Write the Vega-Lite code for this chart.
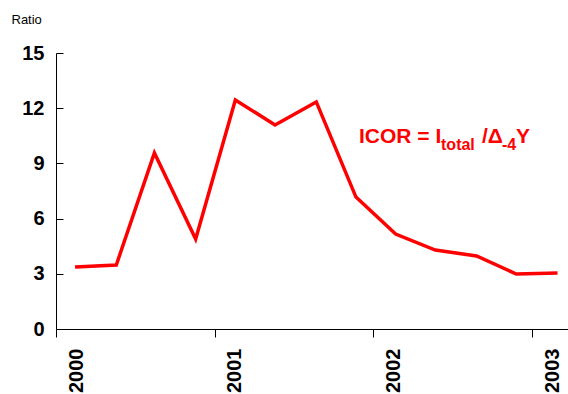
{
  "$schema": "https://vega.github.io/schema/vega-lite/v6.json",
  "autosize": {"type": "none"},
  "width": 512,
  "height": 276,
  "padding": {"left": 56, "top": 53, "right": 0, "bottom": 65},
  "background": "white",
  "config": {
    "view": {"stroke": null},
    "font": "Liberation Sans",
    "axis": {"grid": false, "domainColor": "#000000", "tickColor": "#000000", "labelColor": "#000000", "titleColor": "#000000", "labelFont": "Liberation Sans", "titleFont": "Liberation Sans"}
  },
  "datasets": {
    "icor": [
      {"t": 2000.12, "ratio": 3.37},
      {"t": 2000.38, "ratio": 3.48},
      {"t": 2000.62, "ratio": 9.57},
      {"t": 2000.88, "ratio": 4.89},
      {"t": 2001.13, "ratio": 12.45},
      {"t": 2001.38, "ratio": 11.09},
      {"t": 2001.64, "ratio": 12.34},
      {"t": 2001.89, "ratio": 7.17},
      {"t": 2002.14, "ratio": 5.16},
      {"t": 2002.39, "ratio": 4.29},
      {"t": 2002.65, "ratio": 3.97},
      {"t": 2002.90, "ratio": 2.99},
      {"t": 2003.16, "ratio": 3.04}
    ],
    "mainText": [
      {"t": 2001.909, "ratio": 10.11, "label": "ICOR = I"},
      {"t": 2002.684, "ratio": 10.11, "label": "/Δ"},
      {"t": 2002.899, "ratio": 10.11, "label": "Y"}
    ],
    "subText": [
      {"t": 2002.426, "ratio": 9.73, "label": "total"},
      {"t": 2002.810, "ratio": 9.73, "label": "-4"}
    ]
  },
  "encoding": {
    "x": {
      "field": "t", "type": "quantitative",
      "scale": {"domain": [2000, 2003.226], "nice": false, "zero": false},
      "axis": {"values": [2000, 2001, 2002, 2003], "format": "d", "title": null, "labelAngle": -90, "labelFontSize": 20, "labelFontWeight": "bold", "tickSize": 8, "labelPadding": 11, "labelOffset": 20, "domainWidth": 1, "labelFlush": false, "labelOverlap": false}
    },
    "y": {
      "field": "ratio", "type": "quantitative",
      "scale": {"domain": [0, 15], "nice": false},
      "axis": {"values": [0, 3, 6, 9, 12, 15], "title": "Ratio", "titleAngle": 0, "titleAlign": "left", "titleBaseline": "alphabetic", "titleX": -45, "titleY": -30, "titleFontSize": 13, "titleFontWeight": "normal", "labelFontSize": 20, "labelFontWeight": "bold", "tickSize": -7, "labelPadding": 19, "domainWidth": 1, "labelFlush": false}
    }
  },
  "layer": [
    {
      "data": {"name": "icor"},
      "mark": {"type": "line", "color": "#FF0000", "strokeWidth": 3.5}
    },
    {
      "data": {"name": "mainText"},
      "mark": {"type": "text", "align": "left", "baseline": "alphabetic", "fontSize": 21, "fontWeight": "bold", "color": "#FF0000", "font": "Liberation Sans"},
      "encoding": {"text": {"field": "label"}}
    },
    {
      "data": {"name": "subText"},
      "mark": {"type": "text", "align": "left", "baseline": "alphabetic", "fontSize": 16, "fontWeight": "bold", "color": "#FF0000", "font": "Liberation Sans"},
      "encoding": {"text": {"field": "label"}}
    }
  ]
}
